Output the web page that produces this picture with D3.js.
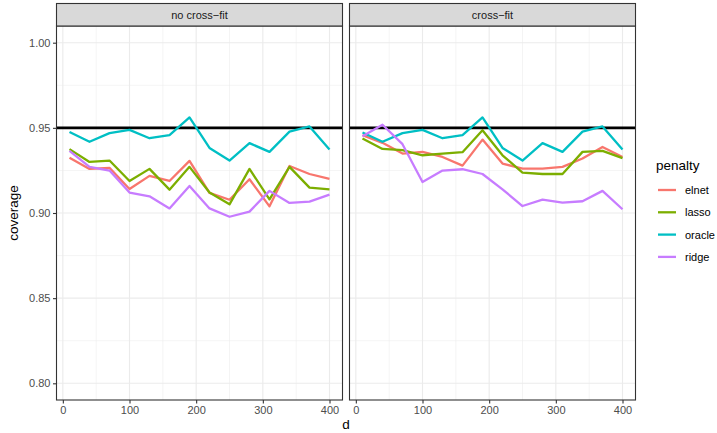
<!DOCTYPE html>
<html>
<head>
<meta charset="utf-8">
<script src="https://cdn.jsdelivr.net/npm/d3@7"></script>
<style>
  body { margin: 0; background: #fff; }
  svg { display: block; font-family: 'Liberation Sans', Arial, sans-serif; }
</style>
</head>
<body>
<div id="viz"></div>
<script>
const dValues = [10, 40, 70, 100, 130, 160, 190, 220, 250, 280, 310, 340, 370, 400];
const panels = ['no cross\u2212fit', 'cross\u2212fit'];
const penalties = ['elnet', 'lasso', 'oracle', 'ridge'];
const penaltyColors = ['#F8766D', '#7CAE00', '#00BFC4', '#C77CFF'];
const xTicks = [0, 100, 200, 300, 400];
const yTicks = [0.80, 0.85, 0.90, 0.95, 1.00];
const target = 0.95;

// no cross-fit
const noCfElnet  = [0.9325, 0.9259, 0.9265, 0.9141, 0.9218, 0.9188, 0.9306, 0.9118, 0.9078, 0.9198, 0.9039, 0.9276, 0.9229, 0.9200];
const noCfLasso  = [0.9375, 0.9300, 0.9308, 0.9188, 0.9259, 0.9137, 0.9271, 0.9120, 0.9051, 0.9259, 0.9080, 0.9271, 0.9149, 0.9139];
const noCfOracle = [0.9476, 0.9418, 0.9469, 0.9488, 0.9439, 0.9457, 0.9561, 0.9382, 0.9308, 0.9410, 0.9359, 0.9478, 0.9508, 0.9373];
const noCfRidge  = [0.9365, 0.9271, 0.9249, 0.9120, 0.9098, 0.9027, 0.9159, 0.9027, 0.8978, 0.9008, 0.9130, 0.9059, 0.9067, 0.9108];
// cross-fit
const cfElnet  = [0.9457, 0.9412, 0.9349, 0.9359, 0.9329, 0.9278, 0.9431, 0.9290, 0.9261, 0.9261, 0.9271, 0.9320, 0.9388, 0.9329];
const cfLasso  = [0.9437, 0.9376, 0.9369, 0.9339, 0.9349, 0.9357, 0.9486, 0.9339, 0.9237, 0.9229, 0.9229, 0.9359, 0.9365, 0.9322];
const cfOracle = [0.9473, 0.9418, 0.9469, 0.9488, 0.9439, 0.9457, 0.9561, 0.9382, 0.9308, 0.9410, 0.9359, 0.9478, 0.9508, 0.9373];
const cfRidge  = [0.9451, 0.9518, 0.9404, 0.9182, 0.9249, 0.9257, 0.9229, 0.9139, 0.9041, 0.9078, 0.9061, 0.9069, 0.9130, 0.9022];

const panelData = [
  [noCfElnet, noCfLasso, noCfOracle, noCfRidge],
  [cfElnet, cfLasso, cfOracle, cfRidge]
];

const w = 717, h = 433;
const panelTop = 26, panelBottom = 400, stripTop = 3.5;
const panelLefts = [56.5, 349.5];
const panelW = 286;

const svg = d3.select('#viz').append('svg')
  .attr('width', w).attr('height', h);

const yScale = d3.scaleLinear().domain([0.7902, 1.0098]).range([panelBottom, panelTop]);
const color = d3.scaleOrdinal().domain(penalties).range(penaltyColors);

panels.forEach(function (name, pi) {
  const x0 = panelLefts[pi];
  const xScale = d3.scaleLinear().domain([-9.5, 419.5]).range([x0, x0 + panelW]);
  const g = svg.append('g');

  // minor grid
  const xMinor = d3.range(50, 420, 100);
  const yMinor = [0.825, 0.875, 0.925, 0.975];
  g.selectAll('.xminor').data(xMinor).enter().append('line')
    .attr('x1', d => xScale(d)).attr('x2', d => xScale(d))
    .attr('y1', panelTop).attr('y2', panelBottom)
    .attr('stroke', '#EBEBEB').attr('stroke-width', 0.55);
  g.selectAll('.yminor').data(yMinor).enter().append('line')
    .attr('x1', x0).attr('x2', x0 + panelW)
    .attr('y1', d => yScale(d)).attr('y2', d => yScale(d))
    .attr('stroke', '#EBEBEB').attr('stroke-width', 0.55);
  // major grid
  g.selectAll('.xmajor').data(xTicks).enter().append('line')
    .attr('x1', d => xScale(d)).attr('x2', d => xScale(d))
    .attr('y1', panelTop).attr('y2', panelBottom)
    .attr('stroke', '#EBEBEB').attr('stroke-width', 1.1);
  g.selectAll('.ymajor').data(yTicks).enter().append('line')
    .attr('x1', x0).attr('x2', x0 + panelW)
    .attr('y1', d => yScale(d)).attr('y2', d => yScale(d))
    .attr('stroke', '#EBEBEB').attr('stroke-width', 1.1);

  // reference line
  g.append('line')
    .attr('x1', x0).attr('x2', x0 + panelW)
    .attr('y1', yScale(target)).attr('y2', yScale(target))
    .attr('stroke', '#000').attr('stroke-width', 2.6);

  const line = d3.line()
    .x((d, i) => xScale(dValues[i]))
    .y(d => yScale(d));

  panelData[pi].forEach(function (series, si) {
    g.append('path')
      .datum(series)
      .attr('d', line)
      .attr('fill', 'none')
      .attr('stroke', color(penalties[si]))
      .attr('stroke-width', 2.3)
      .attr('stroke-linejoin', 'round');
  });

  // panel border
  g.append('rect')
    .attr('x', x0).attr('y', panelTop)
    .attr('width', panelW).attr('height', panelBottom - panelTop)
    .attr('fill', 'none').attr('stroke', '#333333').attr('stroke-width', 1.1);

  // strip
  g.append('rect')
    .attr('x', x0).attr('y', stripTop)
    .attr('width', panelW).attr('height', panelTop - stripTop)
    .attr('fill', '#D9D9D9').attr('stroke', '#333333').attr('stroke-width', 1.1);
  g.append('text')
    .attr('x', x0 + panelW / 2).attr('y', (stripTop + panelTop) / 2 + 4)
    .attr('text-anchor', 'middle')
    .style('font-size', '11px').attr('fill', '#1A1A1A')
    .text(name);

  // x axis
  const xAxis = d3.axisBottom(xScale).tickValues(xTicks).tickSize(3.5).tickPadding(2.5);
  const xa = svg.append('g').attr('transform', 'translate(0,' + panelBottom + ')').call(xAxis);
  xa.select('.domain').remove();
  xa.selectAll('line').attr('stroke', '#333333').attr('stroke-width', 1.1);
  xa.selectAll('text').attr('fill', '#4D4D4D').style('font-size', '11px')
    .style('font-family', "'Liberation Sans', Arial, sans-serif");

  if (pi === 0) {
    const yAxis = d3.axisLeft(yScale).tickValues(yTicks).tickFormat(d3.format('.2f')).tickSize(3.5).tickPadding(2.5);
    const ya = svg.append('g').attr('transform', 'translate(' + x0 + ',0)').call(yAxis);
    ya.select('.domain').remove();
    ya.selectAll('line').attr('stroke', '#333333').attr('stroke-width', 1.1);
    ya.selectAll('text').attr('fill', '#4D4D4D').style('font-size', '11px')
      .style('font-family', "'Liberation Sans', Arial, sans-serif");
  }
});

// axis titles
svg.append('text')
  .attr('x', (panelLefts[0] + panelLefts[1] + panelW) / 2).attr('y', 429)
  .attr('text-anchor', 'middle').style('font-size', '13.5px').attr('fill', '#000')
  .text('d');
svg.append('text')
  .attr('transform', 'translate(18,' + ((panelTop + panelBottom) / 2) + ') rotate(-90)')
  .attr('text-anchor', 'middle').style('font-size', '13.5px').attr('fill', '#000')
  .text('coverage');

// legend
const legend = svg.append('g').attr('transform', 'translate(656,0)');
legend.append('text')
  .attr('x', 0).attr('y', 170)
  .style('font-size', '13.5px').attr('fill', '#000')
  .text('penalty');
const items = legend.selectAll('.item').data(penalties).enter().append('g')
  .attr('transform', (d, i) => 'translate(0,' + (190 + i * 22.3) + ')');
items.append('line')
  .attr('x1', 2).attr('x2', 20).attr('y1', 0).attr('y2', 0)
  .attr('stroke', d => color(d)).attr('stroke-width', 2.3);
items.append('text')
  .attr('x', 29).attr('y', 4)
  .style('font-size', '11px').attr('fill', '#000')
  .text(d => d);
</script>
</body>
</html>
